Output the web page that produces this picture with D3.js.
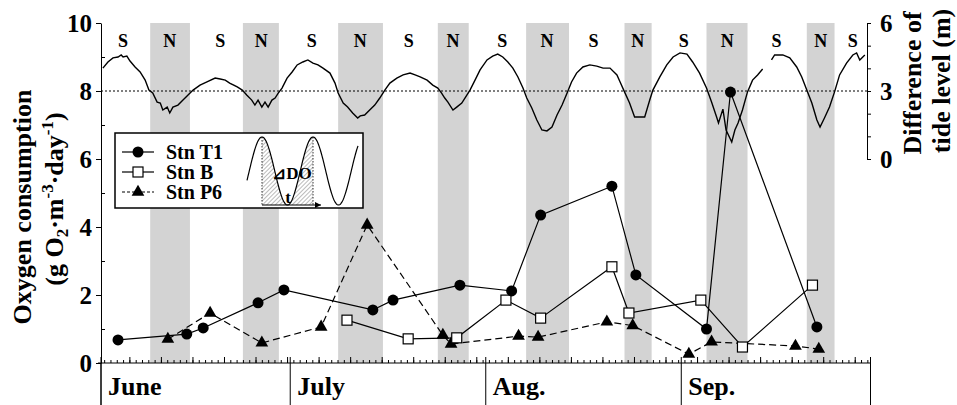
<!DOCTYPE html>
<html>
<head>
<meta charset="utf-8">
<script src="https://cdn.jsdelivr.net/npm/d3@7"></script>
<style>
  body { margin: 0; background: #fff; }
  text { font-family: "Liberation Serif", "Times New Roman", serif; font-weight: bold; fill: #000; }
</style>
</head>
<body>
<div id="chart-area"></div>
<script>
// days counted from June 1 (00:00)
const monthNames = ["June", "July", "Aug.", "Sep."];
const monthStartDay = [0, 30, 61, 92, 122];

// neap tide periods (grey bands) and spring/neap labels
const neapStart = [7.8, 22.5, 37.6, 53.4, 67.4, 83.0, 96.0, 111.9];
const neapEnd   = [14.1, 28.2, 44.7, 58.3, 74.2, 87.3, 102.5, 116.3];
const phaseLabel = ["S", "N", "S", "N", "S", "N", "S", "N", "S", "N", "S", "N", "S", "N", "S", "N", "S"];
const phaseDay   = [3.5, 10.9, 18.9, 25.4, 33.4, 41.1, 48.8, 55.8, 63.6, 70.7, 78.1, 85.1, 92.4, 99.3, 107.1, 114.1, 119.2];

// difference of tide level (m)
const tideDay = [0.3,1.1,1.9,2.7,3.2,3.5,4.1,4.6,5.4,6.2,7.0,7.6,8.2,8.9,9.4,9.8,10.5,10.9,11.4,12.2,
  13.0,13.8,14.6,15.7,16.8,18.1,18.9,19.7,20.4,21.6,22.4,23.1,23.9,24.4,24.9,25.5,26.0,26.5,27.1,27.6,
  28.1,28.7,29.5,30.3,31.1,32.0,32.8,33.6,34.4,35.2,36.3,37.1,37.6,38.4,39.1,39.9,40.7,41.1,41.8,42.6,
  43.4,44.2,45.0,45.8,46.9,47.9,49.0,49.8,50.6,51.7,52.6,53.4,54.0,54.5,55.0,55.8,56.4,57.2,58.0,58.5,
  59.3,60.1,61.2,62.1,62.9,63.7,64.5,65.3,66.1,66.9,67.5,68.3,69.1,69.9,70.7,71.5,72.3,73.1,73.9,74.6,
  75.4,76.4,77.5,78.6,79.6,80.7,81.8,82.3,83.0,83.8,84.6,86.2,87.0,87.5,88.6,89.7,90.7,91.8,92.9,93.8,
  94.9,96.0,96.8,97.6,97.9,98.6,99.1,100.0,100.5,101.0,101.7,102.5,103.3,104.1,104.9,105.6,106.3,106.8,108.1,109.2,
  110.3,111.1,111.9,112.7,113.5,114.0,114.7,115.5,116.3,117.1,118.2,119.2,119.8,120.3,121.1];
const tideLevel = [4.01,4.28,4.46,4.50,4.59,4.50,4.54,4.32,4.06,3.84,3.48,3.04,2.91,2.51,2.47,2.16,2.29,2.03,2.29,2.38,
  2.60,2.82,3.04,3.26,3.40,3.57,3.53,3.48,3.35,3.18,3.04,2.82,2.60,2.38,2.60,2.29,2.51,2.29,2.60,2.69,
  2.91,3.13,3.57,3.84,4.15,4.28,4.37,4.23,4.15,4.01,3.79,3.35,2.91,2.47,2.29,2.03,1.81,1.90,1.94,2.16,
  2.38,2.69,3.04,3.35,3.57,3.71,3.79,3.71,3.62,3.48,3.26,3.13,2.91,2.69,2.51,2.16,2.29,2.47,2.82,3.04,
  3.48,3.93,4.37,4.54,4.63,4.50,4.28,4.01,3.62,3.13,2.69,2.25,1.72,1.28,1.24,1.41,1.94,2.38,2.91,3.40,
  3.79,4.06,4.15,4.10,4.01,4.01,3.71,3.40,2.96,2.47,1.85,1.85,2.60,3.04,3.62,4.15,4.50,4.68,4.63,4.28,
  3.79,3.13,2.51,1.85,1.59,2.20,1.28,0.75,1.28,1.59,2.16,2.96,3.48,3.71,3.97,null,4.37,4.59,4.59,4.46,
  4.06,3.62,3.04,2.47,1.72,1.41,1.81,2.29,2.96,3.71,4.23,4.59,4.68,4.37,4.59];

// oxygen consumption (g O2 m-3 day-1)
const t1Day   = [2.7, 13.6, 16.2, 24.9, 29.0, 43.1, 46.3, 56.9, 65.1, 69.7, 81.0, 84.8, 96.0, 99.8, 113.5];
const t1Value = [0.68, 0.85, 1.03, 1.77, 2.15, 1.56, 1.85, 2.29, 2.12, 4.35, 5.20, 2.59, 1.00, 7.97, 1.06];
const bDay    = [39.0, 48.7, 56.4, 64.2, 69.7, 81.0, 83.7, 95.1, 101.7, 112.8];
const bValue  = [1.26, 0.71, 0.74, 1.85, 1.32, 2.83, 1.47, 1.85, 0.47, 2.29];
const p6Day   = [10.6, 17.3, 25.5, 34.9, 42.2, 54.2, 55.5, 66.2, 69.3, 80.2, 84.3, 93.2, 96.8, 110.1, 113.8];
const p6Value = [0.70, 1.47, 0.59, 1.06, 4.06, 0.82, 0.56, 0.79, 0.76, 1.21, 1.10, 0.26, 0.62, 0.50, 0.41];

const yTicks = [0, 2, 4, 6, 8, 10];
const yMinorTicks = [1, 3, 5, 7, 9];
const tideTicks = [0, 3, 6];
const tideMinorTicks = [1, 2, 4, 5];

const width = 957, height = 405;

const svg = d3.select("#chart-area")
  .append("svg")
    .attr("width", width)
    .attr("height", height);

const x = d3.scaleLinear().domain([0, 122]).range([101, 870.5]);
const y = d3.scaleLinear().domain([0, 10]).range([363, 23]);
const yTide = d3.scaleLinear().domain([0, 6]).range([159, 23]);
const tideAxisX = 867;

// neap bands
svg.selectAll(".neap")
  .data(neapStart)
  .enter()
  .append("rect")
    .attr("x", d => x(d))
    .attr("y", y(10))
    .attr("width", (d, i) => x(neapEnd[i]) - x(d))
    .attr("height", y(0) - y(10))
    .attr("fill", "#d3d3d3");

// S / N labels
svg.selectAll(".phase")
  .data(phaseLabel)
  .enter()
  .append("text")
    .attr("x", (d, i) => x(phaseDay[i]))
    .attr("y", 47)
    .attr("text-anchor", "middle")
    .style("font-size", "18px")
    .text(d => d);

// mean tide reference
svg.append("line")
  .attr("x1", x(0)).attr("x2", tideAxisX)
  .attr("y1", yTide(3)).attr("y2", yTide(3))
  .attr("stroke", "#000")
  .attr("stroke-width", 1)
  .attr("stroke-dasharray", "2,2");

// tide curve
const tideLine = d3.line()
  .defined(d => d[1] != null)
  .x(d => x(d[0]))
  .y(d => yTide(d[1]));
svg.append("path")
  .datum(d3.zip(tideDay, tideLevel))
  .attr("d", tideLine)
  .attr("fill", "none")
  .attr("stroke", "#000")
  .attr("stroke-width", 1.4);

// left axis
const leftAxis = svg.append("g")
  .attr("transform", `translate(${x(0)},0)`)
  .call(d3.axisLeft(y).tickValues(yTicks).tickSize(5).tickSizeOuter(0).tickPadding(4));
svg.append("g")
  .attr("transform", `translate(${x(0)},0)`)
  .call(d3.axisRight(y).tickValues(yMinorTicks).tickSize(4).tickSizeOuter(0).tickFormat(""))
  .select(".domain").remove();
leftAxis.selectAll("text")
  .style("font-family", "'Liberation Serif', serif")
  .style("font-weight", "bold")
  .style("font-size", "25px");
svg.append("line")
  .attr("x1", x(0)).attr("x2", x(0))
  .attr("y1", y(0)).attr("y2", height)
  .attr("stroke", "#000");

// right (tide) axis
const rightAxis = svg.append("g")
  .attr("transform", `translate(${tideAxisX},0)`)
  .call(d3.axisRight(yTide).tickValues(tideTicks).tickFormat(d3.format("d"))
    .tickSize(4).tickSizeOuter(0).tickPadding(9));
svg.append("g")
  .attr("transform", `translate(${tideAxisX},0)`)
  .call(d3.axisRight(yTide).tickValues(tideMinorTicks).tickSize(4).tickSizeOuter(0).tickFormat(""))
  .select(".domain").remove();
rightAxis.selectAll("text")
  .style("font-family", "'Liberation Serif', serif")
  .style("font-weight", "bold")
  .style("font-size", "25px");

// x axis: daily ticks, 5-day ticks, month boundaries
svg.append("g")
  .attr("transform", `translate(0,${y(0)})`)
  .call(d3.axisTop(x).tickValues(d3.range(0.5, 122, 1)).tickSize(3).tickSizeOuter(0).tickFormat(""))
  .select(".domain").attr("d", `M${x(0) - 3},0H${x(122)}`);
svg.append("g")
  .attr("transform", `translate(0,${y(0)})`)
  .call(d3.axisTop(x).tickValues(d3.range(4.5, 122, 5)).tickSize(6).tickFormat(""))
  .select(".domain").remove();
svg.selectAll(".month")
  .data(monthStartDay)
  .enter()
  .append("line")
    .attr("x1", d => x(d)).attr("x2", d => x(d))
    .attr("y1", y(0) - 6).attr("y2", height)
    .attr("stroke", "#000");
svg.selectAll(".monthLabel")
  .data(monthNames)
  .enter()
  .append("text")
    .attr("x", (d, i) => x(monthStartDay[i]) + 7)
    .attr("y", 395)
    .style("font-size", "26px")
    .text(d => d);

// stations
const line = (days) => d3.line().x((d, i) => x(days[i])).y(d => y(d));

svg.append("path")
  .datum(p6Value)
  .attr("d", line(p6Day))
  .attr("fill", "none")
  .attr("stroke", "#000")
  .attr("stroke-width", 1.2)
  .attr("stroke-dasharray", "7,4");
svg.append("path")
  .datum(bValue)
  .attr("d", line(bDay))
  .attr("fill", "none")
  .attr("stroke", "#000")
  .attr("stroke-width", 1.2);
svg.append("path")
  .datum(t1Value)
  .attr("d", line(t1Day))
  .attr("fill", "none")
  .attr("stroke", "#000")
  .attr("stroke-width", 1.2);

const tri = d3.symbol().type(d3.symbolTriangle).size(70);
svg.selectAll(".p6")
  .data(p6Value)
  .enter()
  .append("path")
    .attr("d", tri)
    .attr("transform", (d, i) => `translate(${x(p6Day[i])},${y(d)})`)
    .attr("fill", "#000");
svg.selectAll(".b")
  .data(bValue)
  .enter()
  .append("rect")
    .attr("x", (d, i) => x(bDay[i]) - 5)
    .attr("y", d => y(d) - 5)
    .attr("width", 10).attr("height", 10)
    .attr("fill", "#fff")
    .attr("stroke", "#000")
    .attr("stroke-width", 1.2);
svg.selectAll(".t1")
  .data(t1Value)
  .enter()
  .append("circle")
    .attr("cx", (d, i) => x(t1Day[i]))
    .attr("cy", d => y(d))
    .attr("r", 5.5)
    .attr("fill", "#000");

// legend
const legend = svg.append("g");
legend.append("rect")
  .attr("x", 115).attr("y", 133)
  .attr("width", 248).attr("height", 75)
  .attr("fill", "#fff")
  .attr("stroke", "#000")
  .attr("stroke-width", 1.5);
const legendNames = ["Stn T1", "Stn B", "Stn P6"];
const legendY = [152, 172, 192];
legendNames.forEach((name, i) => {
  legend.append("line")
    .attr("x1", 122).attr("x2", 154)
    .attr("y1", legendY[i]).attr("y2", legendY[i])
    .attr("stroke", "#000")
    .attr("stroke-width", 1.2)
    .attr("stroke-dasharray", i == 2 ? "3,2" : null);
  if (i == 0) {
    legend.append("circle").attr("cx", 138).attr("cy", legendY[i]).attr("r", 5.5);
  } else if (i == 1) {
    legend.append("rect").attr("x", 133).attr("y", legendY[i] - 5).attr("width", 10).attr("height", 10)
      .attr("fill", "#fff").attr("stroke", "#000").attr("stroke-width", 1.2);
  } else {
    legend.append("path").attr("d", tri).attr("transform", `translate(138,${legendY[i]})`);
  }
  legend.append("text")
    .attr("x", 166).attr("y", legendY[i] + 7)
    .style("font-size", "20px")
    .text(name);
});

// small sketch of the oxygen drop per tidal cycle
const defs = svg.append("defs");
const pat = defs.append("pattern")
  .attr("id", "hatch")
  .attr("patternUnits", "userSpaceOnUse")
  .attr("width", 3).attr("height", 3)
  .attr("patternTransform", "rotate(45)");
pat.append("line")
  .attr("x1", 0).attr("y1", 0).attr("x2", 0).attr("y2", 3)
  .attr("stroke", "#555").attr("stroke-width", 0.8);
defs.append("marker")
  .attr("id", "arrow")
  .attr("viewBox", "0 0 10 10")
  .attr("refX", 10).attr("refY", 5)
  .attr("markerWidth", 9).attr("markerHeight", 6)
  .attr("markerUnits", "userSpaceOnUse")
  .attr("orient", "auto")
  .append("path").attr("d", "M0,0L10,5L0,10Z").attr("fill", "#000");

const wave = px => 171 - 34 * Math.cos(2 * Math.PI * (px - 262) / 51);
legend.append("path")
  .datum(d3.range(262, 313.5, 0.5))
  .attr("d", d3.area().x(d => d).y0(205).y1(d => wave(d)))
  .attr("fill", "url(#hatch)");
[262, 313].forEach(px => {
  legend.append("line")
    .attr("x1", px).attr("x2", px).attr("y1", wave(px)).attr("y2", 205)
    .attr("stroke", "#000").attr("stroke-width", 0.8).attr("stroke-dasharray", "1.5,1.5");
});
legend.append("path")
  .datum(d3.range(247, 358.5, 0.5))
  .attr("d", d3.line().x(d => d).y(d => wave(d)))
  .attr("fill", "none")
  .attr("stroke", "#000")
  .attr("stroke-width", 1.2);
legend.append("line")
  .attr("x1", 262).attr("x2", 321).attr("y1", 205).attr("y2", 205)
  .attr("stroke", "#000").attr("stroke-width", 1)
  .attr("marker-end", "url(#arrow)");
legend.append("text")
  .attr("x", 292).attr("y", 179)
  .attr("text-anchor", "middle")
  .style("font-size", "17px")
  .text("⊿DO");
legend.append("text")
  .attr("x", 288).attr("y", 203)
  .attr("text-anchor", "middle")
  .style("font-size", "17px")
  .text("t");

// axis titles
svg.append("text")
  .attr("transform", "translate(31,207) rotate(-90)")
  .attr("text-anchor", "middle")
  .style("font-size", "26px")
  .text("Oxygen consumption");

const unit = svg.append("text")
  .attr("transform", "translate(63,199) rotate(-90)")
  .attr("text-anchor", "middle")
  .style("font-size", "26px");
unit.append("tspan").text("(g O");
unit.append("tspan").attr("dy", 5).style("font-size", "17px").text("2");
unit.append("tspan").attr("dy", -5).text("·m");
unit.append("tspan").attr("dy", -10).style("font-size", "17px").text("-3");
unit.append("tspan").attr("dy", 10).text("·day");
unit.append("tspan").attr("dy", -10).style("font-size", "17px").text("-1");
unit.append("tspan").attr("dy", 10).text(")");

svg.append("text")
  .attr("transform", "translate(921,83) rotate(-90)")
  .attr("text-anchor", "middle")
  .style("font-size", "26px")
  .text("Difference of");
svg.append("text")
  .attr("transform", "translate(950,81) rotate(-90)")
  .attr("text-anchor", "middle")
  .style("font-size", "26px")
  .text("tide level (m)");
</script>
</body>
</html>
